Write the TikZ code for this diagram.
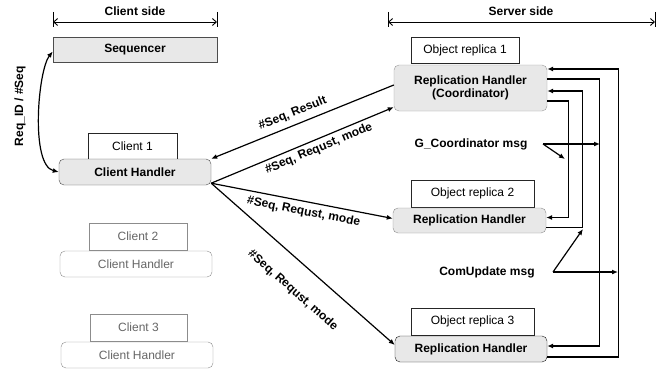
\documentclass[tikz,border=0pt]{standalone}
\usepackage{fontspec}
\setmainfont{Liberation Sans}
\usetikzlibrary{arrows.meta}
\definecolor{boxgray}{HTML}{E8E8E8}

\begin{document}
\begin{tikzpicture}[x=1pt,y=-1pt,
        font=\fontsize{12}{13}\selectfont,
        plainbox/.style={draw=black!85,fill=white,inner sep=0pt,minimum height=26pt},
        handler/.style={draw=black!70,fill=boxgray,rounded corners=5pt,inner sep=0pt,minimum width=152pt,minimum height=26pt,font=\fontsize{12}{13}\selectfont\bfseries},
        faded/.style={draw=black!45,text=black!60,fill=white},
        msg/.style={font=\fontsize{12}{13}\selectfont\bfseries},
        arr/.style={line width=1.2pt,-{Latex[length=6pt,width=5pt]}},
        rarr/.style={line width=1.2pt,{Latex[length=6pt,width=5pt]}-},
        dim/.style={line width=0.9pt,{Straight Barb[length=4pt,width=7pt]}-{Straight Barb[length=4pt,width=7pt]}}]
                \useasboundingbox (0,0) rectangle (666,369);
                \begin{scope}[every node/.style={msg}]
                    \node (cside) at (135,11) {Client side};
                    \node (sside) at (521,11) {Server side};
                    \node[rotate=90] (reqid) at (20,106) {Req\_ID / \#Seq};
                    \node (gcoord) at (471,144) {G\_Coordinator msg};
                    \node (comup) at (487,272) {ComUpdate msg};
                \end{scope}
                \begin{scope}
                    \node[plainbox,fill=boxgray,draw=black!70,minimum width=164pt,minimum height=25pt,font=\fontsize{12}{13}\selectfont\bfseries] (seq) at (135,49.5) {Sequencer};
                    \node[plainbox,minimum width=89pt] (cl1) at (132.5,146) {Client 1};
                    \node[handler] (ch1) at (135,172) {Client Handler};
                    \node[plainbox,faded,minimum width=98pt,minimum height=27pt] (cl2) at (138,236.5) {Client 2};
                    \node[handler,faded,font=\fontsize{12}{13}\selectfont] (ch2) at (136,264) {Client Handler};
                    \node[plainbox,faded,minimum width=97pt,minimum height=27pt] (cl3) at (138.5,327.5) {Client 3};
                    \node[handler,faded,font=\fontsize{12}{13}\selectfont] (ch3) at (137,355) {Client Handler};
                    \node[plainbox,minimum width=108pt] (or1) at (465,50) {Object replica 1};
                    \node[handler,draw=black!40,minimum width=153pt,minimum height=46pt,align=center] (rh1) at (470.5,88) {Replication Handler\\(Coordinator)};
                    \node[plainbox,minimum width=123pt,minimum height=27pt] (or2) at (472.5,193.5) {Object replica 2};
                    \node[handler,draw=black!45,minimum width=153pt,minimum height=25pt] (rh2) at (469.5,220.5) {Replication Handler};
                    \node[plainbox,minimum width=123pt,minimum height=27pt] (or3) at (472.5,321.5) {Object replica 3};
                    \node[handler,draw=black!90] (rh3) at (471,349) {Replication Handler};
                \end{scope}
                \coordinate (cl) at (53,22);
                \coordinate (cr) at (217,22);
                \coordinate (sl) at (388,22);
                \coordinate (sr) at (655,22);
                \coordinate (gcout) at (543,144);
                \coordinate (gcup) at (600,144);
                \coordinate (gcdown) at (565,159);
                \coordinate (cuout) at (553,272);
                \coordinate (curight) at (618,272);
                \coordinate (cuup) at (583,229);
                \begin{scope}
                    \draw[dim] (cl) -- (cr);
                    \draw[dim] (sl) -- (sr);
                    \foreach \p in {cl,cr,sl,sr}
                        \draw[line width=0.9pt] ([yshift=10pt]\p) -- ([yshift=-5pt]\p);
                    \draw[line width=1.2pt,{Latex[length=6pt,width=5pt]}-{Latex[length=6pt,width=5pt]}]
                        ([yshift=-2pt]seq.west) .. controls (38,70) and (30,165) .. (ch1.west);
                    \draw[rarr] (ch1.north east) -- node[msg,sloped,above=2pt,pos=0.47]{\#Seq, Result} ([yshift=3pt]rh1.west);
                    \draw[arr] ([yshift=2pt]ch1.south east) -- node[msg,sloped,below=0pt,pos=0.57]{\#Seq, Requst, mode} ([yshift=4pt]rh1.south west);
                    \draw[arr] ([yshift=2pt]ch1.south east) -- node[msg,sloped,below=1pt,pos=0.52]{\#Seq, Requst, mode} ([yshift=2pt]rh2.west);
                    \draw[arr] ([yshift=2pt]ch1.south east) -- node[msg,sloped,below=17pt,pos=0.54]{\#Seq, Requst, mode} ([yshift=4pt]rh3.west);
                    \draw[arr] ([yshift=-8pt]rh3.east) -- ++(71,0) |- ([yshift=19pt]rh1.east);
                    \draw[arr] ([yshift=9pt]rh1.east) -- ++(52,0) |- ([yshift=3pt]rh3.east);
                    \draw[arr] ([yshift=-7pt]rh2.east) -- ++(36,0) |- ([yshift=-3pt]rh1.east);
                    \draw[arr] ([yshift=-13pt]rh1.east) -- ++(21,0) |- ([yshift=3pt]rh2.east);
                    \draw[arr] (gcout) -- (gcup);
                    \draw[arr] (gcout) -- (gcdown);
                    \draw[arr] (cuout) -- (curight);
                    \draw[arr] (cuout) -- (cuup);
                \end{scope}
            \end{tikzpicture}
\end{document}
